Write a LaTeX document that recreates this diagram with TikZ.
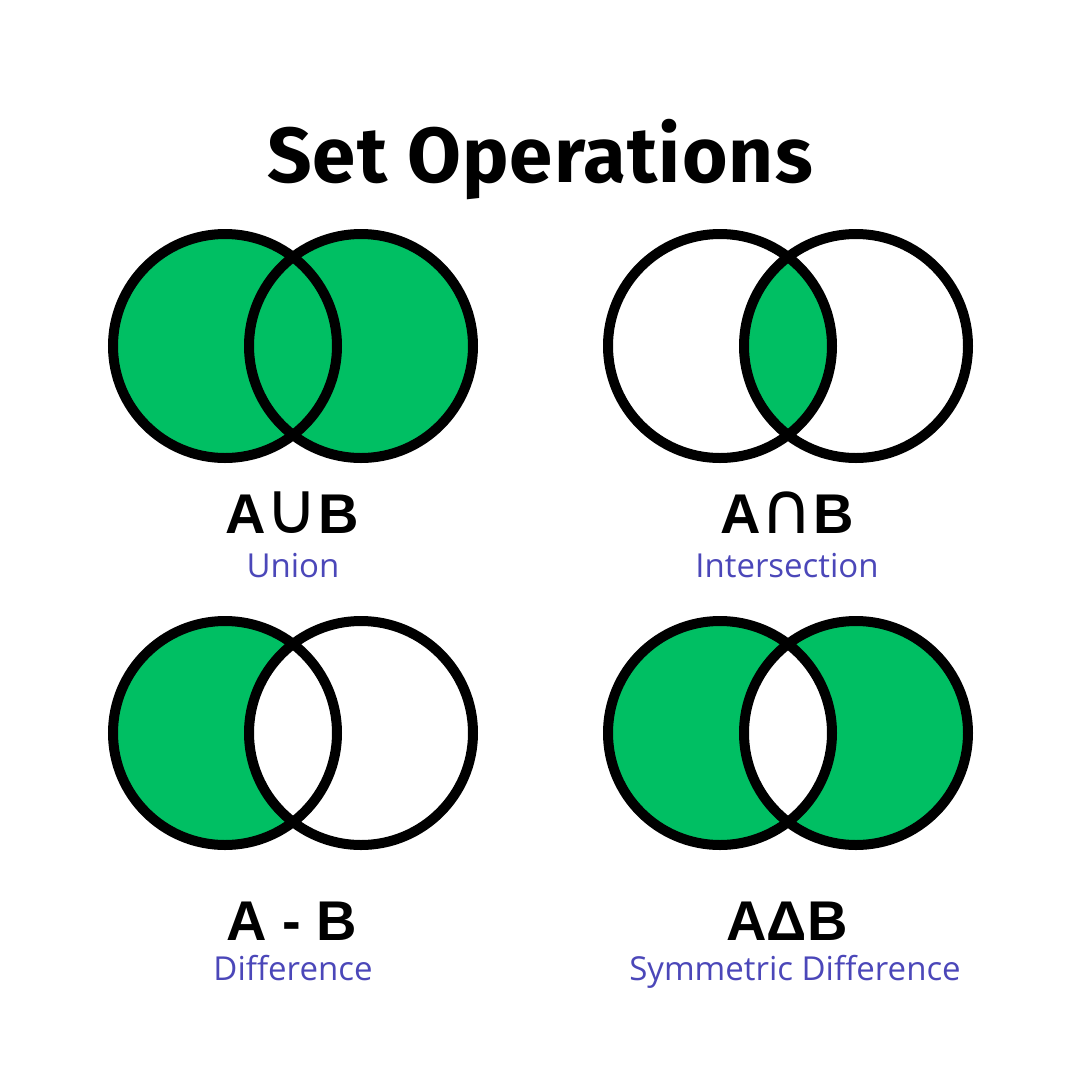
\documentclass[tikz,border=0pt]{standalone}
\usepackage{fontspec}
\setmainfont{Fira Sans}
\newfontfamily\labelfont{Open Sans}
\newfontfamily\letterfont{Liberation Sans}
\newfontfamily\signfont{DejaVu Sans}
\usepackage{tikz}
\definecolor{VennGreen}{HTML}{00BF63}
\definecolor{LabelBlue}{HTML}{4B47B9}
\tikzset{
  ring/.style={draw=black, line width=10pt},
  opname/.style={anchor=base, font=\letterfont\bfseries\fontsize{56}{60}\selectfont},
  optext/.style={anchor=base, text=LabelBlue, font=\labelfont\fontsize{33}{38}\selectfont}
}
\newcommand{\opsign}[1]{{\signfont\mdseries\fontsize{72}{80}\selectfont #1}}

\begin{document}
\begin{tikzpicture}[x=1pt, y=-1pt]
  \useasboundingbox[fill=white] (0,0) rectangle (1080,1080);

  % Title
  \node[anchor=base, font=\bfseries\fontsize{78}{84}\selectfont\addfontfeature{LetterSpace=1.5}] (title) at (540,182) {Set Operations};

  % Centres of the four pairs of sets
  \coordinate (uA) at (225,346); \coordinate (uB) at (361,346);
  \coordinate (iA) at (720,346); \coordinate (iB) at (856,346);
  \coordinate (dA) at (225,733); \coordinate (dB) at (361,733);
  \coordinate (sA) at (720,733); \coordinate (sB) at (856,733);

  % Union
  \fill[VennGreen] (uA) circle[radius=112pt] (uB) circle[radius=112pt];
  \draw[ring] (uA) circle[radius=112pt] (uB) circle[radius=112pt];

  % Intersection
  \begin{scope}
    \clip (iA) circle[radius=112pt];
    \fill[VennGreen] (iB) circle[radius=112pt];
  \end{scope}
  \draw[ring] (iA) circle[radius=112pt] (iB) circle[radius=112pt];

  % Difference
  \fill[VennGreen] (dA) circle[radius=112pt];
  \fill[white] (dB) circle[radius=112pt];
  \draw[ring] (dA) circle[radius=112pt] (dB) circle[radius=112pt];

  % Symmetric difference
  \fill[VennGreen, even odd rule] (sA) circle[radius=112pt] (sB) circle[radius=112pt];
  \draw[ring] (sA) circle[radius=112pt] (sB) circle[radius=112pt];

  % Labels
  \node[opname] (unionSym) at (292,533) {A\opsign{∪}B};
  \node[optext] (unionTxt) at (293,577) {Union};
  \node[opname] (interSym) at (787,533) {A\opsign{∩}B};
  \node[optext] (interTxt) at (787,577) {Intersection};
  \node[opname] (diffSym) at (292,940) {A - B};
  \node[optext] (diffTxt) at (293,980) {Difference};
  \node[opname] (symSym) at (787,940) {AΔB};
  \node[optext] (symTxt) at (795,980) {Symmetric Difference};
\end{tikzpicture}
\end{document}
